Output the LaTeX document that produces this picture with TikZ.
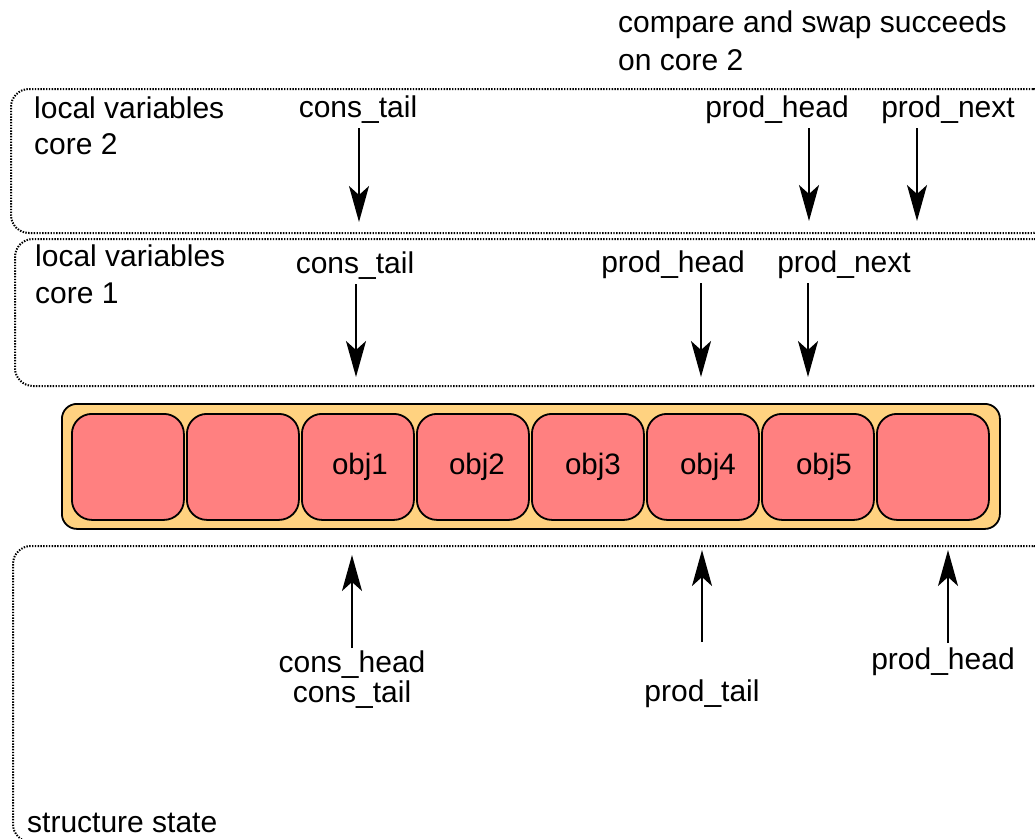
\documentclass[tikz,border=0pt]{standalone}
\usepackage{fontspec}
\setmainfont{Liberation Sans}
\usetikzlibrary{arrows.meta}
\definecolor{boxorange}{HTML}{FFD280}
\definecolor{cellred}{HTML}{FF8080}
\begin{document}
\begin{tikzpicture}[x=1pt,y=-1pt,
  txt/.style={inner sep=0pt, font=\fontsize{30}{37}\selectfont},
  region/.style={draw, line width=2pt, dash pattern=on 1.4pt off 1.4pt,
    rounded corners=18pt, anchor=north west, inner sep=0pt},
  cell/.style={draw, fill=cellred, line width=1.8pt, rounded corners=20pt,
    minimum width=112pt, minimum height=106pt, anchor=north west, inner sep=0pt,
    font=\fontsize{29.5}{37}\selectfont},
  arr/.style={line width=2pt, -{Stealth[length=36pt,width=20pt,inset=9pt]}}]
\useasboundingbox (0,0) rectangle (1035,838);
\clip (0,0) rectangle (1035,838);

% regions
\node[region, minimum width=1040pt, minimum height=144pt] (core2) at (10,88) {};
\node[region, minimum width=1036pt, minimum height=147pt] (core1) at (14,238) {};
\node[region, minimum width=1038pt, minimum height=296pt] (state) at (12,545) {};

% region captions
\node[txt, anchor=north west, align=left, font=\fontsize{30}{38}\selectfont] (cas) at (618,11) {compare and swap succeeds\\on core 2};
\node[txt, anchor=north west, align=left, font=\fontsize{30}{36}\selectfont] (c2cap) at (34,97) {local variables\\core 2};
\node[txt, anchor=north west, align=left, font=\fontsize{30}{37}\selectfont] (c1cap) at (35,245) {local variables\\core 1};
\node[txt, anchor=base west] (stcap) at (27,832) {structure state};

% ring buffer
\node[draw, fill=boxorange, line width=1.8pt, rounded corners=15pt, anchor=north west,
  inner sep=0pt, minimum width=938pt, minimum height=125pt] (ring) at (61,403) {};
\node[cell] (s0) at (71,413) {};
\node[cell] (s1) at (186,413) {};
\node[cell] (s2) at (301,413) {\hspace*{4pt}obj1};
\node[cell] (s3) at (416,413) {\hspace*{8pt}obj2};
\node[cell] (s4) at (531,413) {\hspace*{10pt}obj3};
\node[cell] (s5) at (646,413) {\hspace*{10pt}obj4};
\node[cell] (s6) at (761,413) {\hspace*{12pt}obj5};
\node[cell] (s7) at (876,413) {};

% core 2 local variables
\node[txt, anchor=base] (c2ct) at (358,117) {cons\_tail};
\node[txt, anchor=base] (c2ph) at (777,117) {prod\_head};
\node[txt, anchor=base] (c2pn) at (948,117) {prod\_next};
\coordinate (c2ctT) at (359,222);
\coordinate (c2phT) at (809,221);
\coordinate (c2pnT) at (917,221);
\draw[arr, shorten <=5pt] (c2ct.south -| c2ctT) -- (c2ctT);
\draw[arr, shorten <=5pt] (c2ph.south -| c2phT) -- (c2phT);
\draw[arr, shorten <=5pt] (c2pn.south -| c2pnT) -- (c2pnT);

% core 1 local variables
\node[txt, anchor=base] (c1ct) at (355,273) {cons\_tail};
\node[txt, anchor=base] (c1ph) at (673,272) {prod\_head};
\node[txt, anchor=base] (c1pn) at (844,272) {prod\_next};
\coordinate (c1ctT) at (356,377);
\coordinate (c1phT) at (701,377);
\coordinate (c1pnT) at (808,377);
\draw[arr, shorten <=5pt] (c1ct.south -| c1ctT) -- (c1ctT);
\draw[arr, shorten <=5pt] (c1ph.south -| c1phT) -- (c1phT);
\draw[arr, shorten <=5pt] (c1pn.south -| c1pnT) -- (c1pnT);

% structure state
\node[txt, anchor=north, align=center, font=\fontsize{30}{30}\selectfont] (sch) at (352,651) {cons\_head\\cons\_tail};
\node[txt, anchor=base] (spt) at (702,701) {prod\_tail};
\node[txt, anchor=base] (sph) at (943,669) {prod\_head};
\coordinate (schT) at (352,555);
\coordinate (sptT) at (702,550);
\coordinate (sphT) at (948,550);
\draw[arr, shorten <=3pt] (sch.north -| schT) -- (schT);
\draw[arr, shorten <=37pt] (spt.north -| sptT) -- (sptT);
\draw[arr, shorten <=4pt] (sph.north -| sphT) -- (sphT);
\end{tikzpicture}
\end{document}
